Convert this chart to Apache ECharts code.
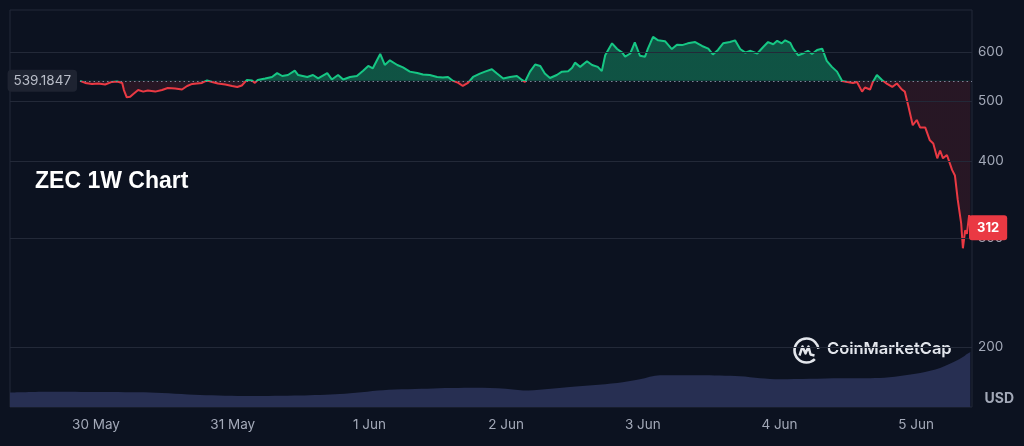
<!DOCTYPE html>
<html>
<head>
<meta charset="utf-8">
<title>ZEC 1W Chart</title>
<script src="https://cdn.jsdelivr.net/npm/echarts@6/dist/echarts.min.js"></script>
<style>
  html, body { margin: 0; padding: 0; background: #0c1220; }
  #main { width: 1024px; height: 446px; }
</style>
</head>
<body>
<div id="main"></div>
<script>
// time = hours from 30 May 00:00
var priceHours = [
  -2.8, -2.5, -1.9, -0.7, 0.4, 1.6, 2.8, 3.7, 4.6, 4.9,
  5.4, 6.0, 6.5, 7.4, 8.3, 9.1, 10.4, 11.6, 12.6, 13.9,
  15.1, 16.0, 16.9, 17.7, 18.6, 19.5, 20.4, 21.4, 22.7, 23.9,
  24.8, 25.6, 26.5, 27.4, 27.9, 28.4, 29.7, 30.9, 31.8, 32.7,
  33.7, 34.9, 35.5, 37.1, 38.1, 39.0, 40.6, 41.4, 42.5, 43.4,
  44.6, 45.8, 46.9, 47.8, 48.6, 49.9, 50.7, 51.6, 52.9, 53.9,
  55.1, 56.4, 57.4, 58.6, 59.9, 60.9, 61.8, 62.7, 63.6, 64.4,
  65.3, 66.2, 67.4, 68.3, 69.5, 70.4, 71.5, 72.7, 73.9, 74.8,
  75.3, 76.2, 77.1, 78.0, 78.8, 79.7, 80.9, 81.8, 82.9, 83.6,
  84.1, 85.0, 86.2, 87.1, 88.1, 88.8, 89.4, 90.6, 91.5, 92.4,
  92.9, 93.8, 94.6, 95.5, 96.4, 96.9, 97.8, 98.7, 99.9, 101.1,
  102.0, 102.9, 103.9, 105.2, 106.4, 107.5, 108.3, 109.2, 110.1, 111.3,
  112.2, 113.1, 114.0, 114.8, 116.1, 117.1, 118.0, 118.9, 119.6, 120.4,
  121.0, 121.9, 122.4, 123.3, 124.1, 125.0, 125.7, 126.6, 127.5, 128.3,
  129.2, 130.1, 131.0, 131.9, 132.9, 133.6, 134.5, 135.0, 135.9, 136.4,
  137.1, 138.0, 138.9, 139.8, 140.6, 141.5, 142.0, 142.6, 143.4, 144.1,
  144.7, 145.6, 146.4, 147.0, 147.7, 148.2, 148.7, 149.4, 150.3, 150.8,
  151.3, 151.9, 152.2, 152.6, 152.9, 153.3, 153.5
];
var prices = [
  539.18, 540, 535, 533, 534, 532, 537, 538, 535, 521,
  507, 508, 513, 521, 518, 520, 518, 521, 525, 524,
  522, 529, 533, 534, 535, 540, 537, 534, 532, 529,
  527, 530, 541, 540, 535, 541, 544, 547, 555, 549,
  551, 560, 551, 547, 551, 544, 555, 542, 551, 542,
  547, 549, 560, 570, 565, 596, 572, 582, 572, 567,
  558, 555, 552, 551, 547, 546, 547, 539, 535, 529,
  535, 547, 554, 558, 563, 554, 544, 547, 549, 541,
  537, 558, 573, 570, 554, 545, 551, 558, 559, 566,
  577, 568, 580, 572, 568, 559, 593, 620, 607, 599,
  590, 597, 622, 592, 590, 608, 635, 627, 625, 607,
  617, 616, 620, 623, 614, 608, 595, 605, 620, 623,
  627, 607, 599, 603, 597, 611, 623, 618, 626, 620,
  627, 621, 608, 593, 597, 603, 596, 605, 608, 581,
  568, 558, 539, 537, 535, 537, 518, 526, 522, 537,
  551, 541, 533, 527, 534, 522, 518, 492, 457, 466,
  453, 453, 432, 427, 404, 416, 404, 409, 387, 379,
  346, 317, 289, 309, 305, 327, 312
];
// volume, million USD (rough)
var volumeHours = [-15.1, -8.1, 0.7, 9.5, 18.3, 27.0, 35.8, 42.8, 50.4, 59.2, 67.9, 73.2, 75.0, 82.7,
  91.5, 95.5, 99.0, 106.0, 113.1, 116.6, 120.1, 130.6, 137.6, 144.7, 148.2, 151.2, 152.6, 153.5];
var volumes = [14.5, 15.3, 15, 14.5, 12, 11, 11.5, 13, 17, 18.7, 19.3, 17.7, 16.7, 20,
  24.3, 28, 32, 32, 31, 29, 28, 29, 29.3, 34.3, 39.3, 47, 52, 55.3];

var dayTicks = [0, 24, 48, 72, 96, 120, 144];
var dayLabels = ['30 May', '31 May', '1 Jun', '2 Jun', '3 Jun', '4 Jun', '5 Jun'];
var priceTicks = [200, 300, 400, 500, 600];
var openPrice = 539.1847;
var lastPrice = 312;

var xMin = -15.1, xMax = 153.8;
var labelFont = 'Inter, "Noto Sans", sans-serif';
var gridColor = '#232938';
var textGrey = '#a3a9b8';

let myChart = echarts.init(document.getElementById('main'));

let priceData = priceHours.map(function (h, i) { return [h, prices[i]]; });
let volumeData = volumeHours.map(function (h, i) { return [h, volumes[i]]; });

// up / down split around the open price (bounded pieces so the gradient has stops)
function splitPieces(downColor, upColor) {
  return [
    { gte: 1, lt: openPrice, color: downColor },
    { gte: openPrice, lte: 100000, color: upColor }
  ];
}

myChart.setOption({
  backgroundColor: '#0c1220',
  animation: false,
  grid: {
    left: 10, right: 52, top: 10, bottom: 39,
    show: true, borderColor: gridColor, borderWidth: 1
  },
  xAxis: {
    type: 'value',
    min: xMin,
    max: xMax,
    axisLine: { show: false },
    axisTick: { show: false },
    splitLine: { show: false },
    axisLabel: {
      customValues: dayTicks,
      formatter: function (v) { return dayLabels[Math.round(v / 24)]; },
      color: textGrey,
      fontSize: 13.5,
      fontFamily: labelFont,
      margin: 11
    }
  },
  yAxis: [
    {
      type: 'log',
      logBase: 10,
      min: 160,
      max: 702,
      position: 'right',
      axisLine: { show: false },
      axisTick: { show: false },
      axisLabel: { show: false },
      splitLine: { show: false }
    },
    { type: 'value', min: 0, max: 400, show: false }
  ],
  visualMap: [
    {
      type: 'piecewise', show: false, seriesIndex: 1, dimension: 1,
      pieces: splitPieces('rgba(234,57,67,0.12)', 'rgba(22,199,132,0.36)')
    },
    {
      type: 'piecewise', show: false, seriesIndex: 2, dimension: 1,
      pieces: splitPieces('#ea3943', '#16c784')
    }
  ],
  series: [
    {
      // 成交量
      name: 'Volume',
      type: 'line',
      yAxisIndex: 1,
      data: volumeData,
      showSymbol: false,
      smooth: 0.3,
      z: 1,
      lineStyle: { width: 0, opacity: 0 },
      areaStyle: { color: '#272f52', opacity: 1 }
    },
    {
      // fill between price and open
      name: 'PriceArea',
      type: 'line',
      data: priceData,
      showSymbol: false,
      z: 2,
      lineStyle: { width: 0, opacity: 0 },
      areaStyle: { origin: openPrice, opacity: 1 },
      markLine: {
        silent: true,
        animation: false,
        symbol: ['none', 'none'],
        lineStyle: { color: gridColor, type: 'solid', width: 1 },
        label: {
          position: 'end',
          distance: 6,
          color: textGrey,
          fontSize: 13.5,
          fontFamily: labelFont,
          formatter: '{c}'
        },
        data: priceTicks.map(function (v) { return { yAxis: v }; })
      }
    },
    {
      name: 'ZEC',
      type: 'line',
      data: priceData,
      showSymbol: false,
      z: 3,
      lineStyle: { width: 2 },
      markLine: {
        silent: true,
        animation: false,
        symbol: ['none', 'none'],
        data: [
          [
            {
              coord: [priceHours[0], openPrice],
              lineStyle: { color: '#80869a', type: [1.5, 3], width: 1 },
              label: {
                position: 'start',
                distance: 3,
                formatter: String(openPrice),
                color: '#b9bdc8',
                fontSize: 13.5,
                fontFamily: labelFont,
                backgroundColor: '#1e2331',
                padding: [4, 6],
                borderRadius: 4
              }
            },
            { coord: [xMax, openPrice] }
          ],
          {
            // last price badge
            yAxis: lastPrice,
            lineStyle: { color: 'transparent', width: 0 },
            label: {
              show: true,
              position: 'end',
              distance: -3,
              formatter: String(lastPrice),
              color: '#ffffff',
              fontWeight: 'bold',
              fontSize: 13,
              fontFamily: labelFont,
              backgroundColor: '#ea3943',
              padding: [6, 8],
              borderRadius: 3
            }
          }
        ]
      }
    }
  ],
  graphic: [
    {
      type: 'text', left: 35, top: 170,
      style: { text: 'ZEC 1W Chart', fill: '#ffffff', font: 'bold 23px "Liberation Sans", Arial, sans-serif' }
    },
    {
      type: 'text', right: 10, top: 392,
      style: { text: 'USD', fill: textGrey, font: 'bold 14px Inter, sans-serif' }
    },
    {
      type: 'group', left: 792, top: 336,
      children: [
        {
          type: 'arc',
          shape: { cx: 14, cy: 14, r: 12, startAngle: 0.8, endAngle: Math.PI * 2 - 0.15 },
          style: { stroke: '#e3e6ec', lineWidth: 2.6, fill: null }
        },
        {
          type: 'polyline',
          shape: { points: [[7, 19], [10, 10], [13, 17], [16, 10], [18, 18], [22, 19]] },
          style: { stroke: '#e3e6ec', lineWidth: 2.4, fill: null, lineJoin: 'round' }
        }
      ]
    },
    {
      type: 'text', left: 827, top: 341,
      style: { text: 'CoinMarketCap', fill: '#e3e6ec', font: '600 16.5px Inter, sans-serif' }
    }
  ]
});

window.addEventListener('resize', function () {
  myChart.resize();
});
</script>
</body>
</html>
